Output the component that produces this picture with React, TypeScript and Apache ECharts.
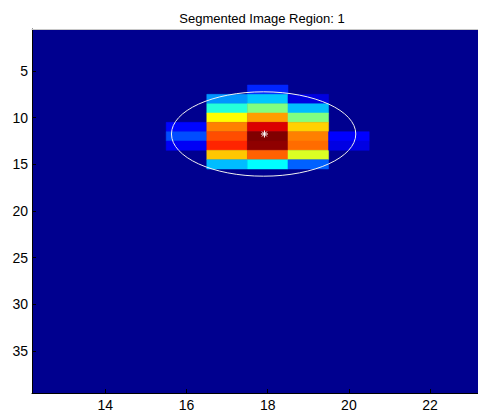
import React, { useEffect, useRef } from "react";
import * as echarts from "echarts";

const titleText = "Segmented Image Region: 1";
const xTicks = [14, 16, 18, 20, 22];
const yTicks = [5, 10, 15, 20, 25, 30, 35];

// image columns (x), the first row index of each column, and normalised intensities down the column
const columns = [16, 17, 18, 19, 20];
const firstRow = [11, 8, 7, 8, 12];
const columnValues = [
  [0.13, 0.2, 0.115],
  [0.27, 0.41, 0.625, 0.75, 0.8, 0.84, 0.68, 0.31],
  [0.16, 0.32, 0.5, 0.72, 0.91, 1.0, 0.985, 0.78, 0.375],
  [0.09, 0.31, 0.5, 0.67, 0.75, 0.77, 0.59, 0.22],
  [0.125, 0.094],
];

// fitted ellipse: centre x, centre y, semi-axis x, semi-axis y
const ellipseFit = [17.9, 11.75, 2.27, 4.52];
const centroid = [17.92, 11.75];

const jet = [
  "#00008F",
  "#0000FF",
  "#0080FF",
  "#00FFFF",
  "#80FF80",
  "#FFFF00",
  "#FF8000",
  "#FF0000",
  "#800000",
];

export default function App() {
  const ref = useRef<HTMLDivElement>(null);

  useEffect(() => {
    if (!ref.current) return;
    const chart = echarts.init(ref.current, null, { renderer: "svg" });

    const cells: number[][] = [];
    columns.forEach((c, i) => {
      columnValues[i].forEach((v, j) => {
        cells.push([c, firstRow[i] + j, v]);
      });
    });

    const font = "'Liberation Sans', Arial, sans-serif";

    chart.setOption({
      animation: false,
      title: {
        text: titleText,
        left: 257,
        textAlign: "center",
        top: 7,
        textStyle: { fontSize: 13, fontWeight: "normal", color: "#000", fontFamily: font },
      },
      grid: {
        left: 32,
        right: 0,
        top: 29,
        bottom: 20,
        show: true,
        backgroundColor: "#00008F",
        borderWidth: 0,
      },
      visualMap: {
        show: false,
        type: "continuous",
        min: 0,
        max: 1,
        dimension: 2,
        seriesIndex: 0,
        inRange: { color: jet },
      },
      xAxis: [
        {
          type: "value",
          min: 12.195,
          max: 23.18,
          position: "bottom",
          axisLine: { show: true, lineStyle: { color: "#000", width: 1 } },
          axisTick: { show: true, inside: true, length: 4, customValues: xTicks, lineStyle: { color: "#000" } },
          axisLabel: { customValues: xTicks, color: "#000", fontSize: 14, fontFamily: font, margin: 5 },
          splitLine: { show: false },
        },
        {
          type: "value",
          min: 12.195,
          max: 23.18,
          position: "top",
          axisLine: { show: true, lineStyle: { color: "#c8c8c8", width: 1 } },
          axisTick: { show: false },
          axisLabel: { show: false },
          splitLine: { show: false },
        },
      ],
      yAxis: {
        type: "value",
        inverse: true,
        min: 0.5,
        max: 39.5,
        axisLine: { show: true, lineStyle: { color: "#000", width: 1 } },
        axisTick: { show: true, inside: true, length: 4, customValues: yTicks, lineStyle: { color: "#000" } },
        axisLabel: {
          customValues: yTicks,
          color: "#000",
          fontSize: 14,
          fontFamily: font,
          margin: 4,
          padding: [5, 0, 0, 0],
        },
        splitLine: { show: false },
      },
      series: [
        {
          type: "custom",
          xAxisIndex: 0,
          data: cells,
          encode: { x: 0, y: 1 },
          renderItem: (params: any, api: any) => {
            const x = api.value(0);
            const y = api.value(1);
            const p0 = api.coord([x - 0.5, y - 0.5]);
            const p1 = api.coord([x + 0.5, y + 0.5]);
            const color = api.visual("color");
            return {
              type: "rect",
              shape: {
                x: Math.min(p0[0], p1[0]),
                y: Math.min(p0[1], p1[1]),
                width: Math.abs(p1[0] - p0[0]),
                height: Math.abs(p1[1] - p0[1]),
              },
              style: { fill: color, stroke: color, lineWidth: 0.5 },
            };
          },
        },
        {
          type: "custom",
          xAxisIndex: 0,
          data: [ellipseFit],
          encode: { x: 0, y: 1 },
          renderItem: (params: any, api: any) => {
            const c = api.coord([api.value(0), api.value(1)]);
            const s = api.size([api.value(2), api.value(3)]);
            return {
              type: "ellipse",
              shape: { cx: c[0], cy: c[1], rx: s[0], ry: s[1] },
              style: { fill: "none", stroke: "#f0f0f0", lineWidth: 1 },
            };
          },
        },
        {
          type: "custom",
          xAxisIndex: 0,
          data: [centroid],
          encode: { x: 0, y: 1 },
          renderItem: (params: any, api: any) => {
            const c = api.coord([api.value(0), api.value(1)]);
            const r = 3.5;
            const d = r * 0.7071;
            const st = { stroke: "#ffffff", lineWidth: 1 };
            return {
              type: "group",
              children: [
                { type: "line", shape: { x1: c[0] - r, y1: c[1], x2: c[0] + r, y2: c[1] }, style: st },
                { type: "line", shape: { x1: c[0], y1: c[1] - r, x2: c[0], y2: c[1] + r }, style: st },
                { type: "line", shape: { x1: c[0] - d, y1: c[1] - d, x2: c[0] + d, y2: c[1] + d }, style: st },
                { type: "line", shape: { x1: c[0] - d, y1: c[1] + d, x2: c[0] + d, y2: c[1] - d }, style: st },
              ],
            };
          },
        },
      ],
    });

    return () => chart.dispose();
  }, []);

  return <div ref={ref} style={{ width: 478, height: 413, position: "absolute", left: 0, top: 0 }} />;
}
